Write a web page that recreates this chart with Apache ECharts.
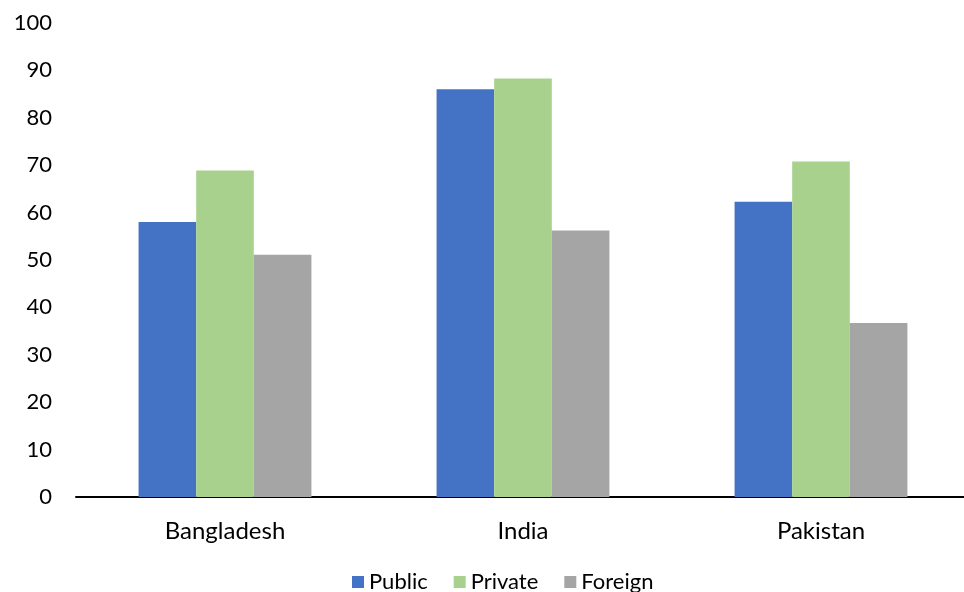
<!DOCTYPE html>
<html>
<head>
<meta charset="utf-8">
<style>
  html, body { margin: 0; padding: 0; background: #ffffff; overflow: hidden; }
  #chart { width: 972px; height: 592px; }
</style>
<script src="https://cdn.jsdelivr.net/npm/echarts@6/dist/echarts.min.js"></script>
</head>
<body>
<div id="chart"></div>
<script>
// Countries on the category axis
const countries = ['Bangladesh', 'India', 'Pakistan'];
// Values per ownership type
const publicValues = [58.0, 86.0, 62.3];
const privateValues = [68.9, 88.3, 70.8];
const foreignValues = [51.1, 56.2, 36.7];
const seriesNames = ['Public', 'Private', 'Foreign'];
const seriesColors = ['#4472C4', '#A9D18E', '#A5A5A5'];

const font = 'Lato, "Open Sans", sans-serif';
const chart = echarts.init(document.getElementById('chart'), null, { renderer: 'canvas' });

const values = [publicValues, privateValues, foreignValues];

chart.setOption({
  animation: false,
  backgroundColor: '#ffffff',
  textStyle: { fontFamily: font },
  // the plot runs slightly past the right edge of the visible page
  grid: { left: 76, right: 2, top: 23, bottom: 95, containLabel: false },
  legend: {
    top: 566,
    left: 347,
    itemWidth: 12,
    itemHeight: 12,
    itemGap: 26,
    icon: 'rect',
    textStyle: { fontFamily: font, fontSize: 22, color: '#000000', padding: 0 },
    data: seriesNames
  },
  xAxis: {
    type: 'category',
    data: countries,
    axisLine: { show: true, lineStyle: { color: '#000000', width: 2 } },
    axisTick: { show: false },
    axisLabel: { fontFamily: font, fontSize: 24, color: '#000000', margin: 22 }
  },
  yAxis: {
    type: 'value',
    min: 0,
    max: 100,
    interval: 10,
    axisLine: { show: false },
    axisTick: { show: false },
    splitLine: { show: false },
    axisLabel: { fontFamily: font, fontSize: 22, color: '#000000', margin: 24 }
  },
  series: seriesNames.map((name, i) => ({
    name: name,
    type: 'bar',
    data: values[i],
    barGap: '0%',
    barCategoryGap: '42%',
    itemStyle: { color: seriesColors[i] }
  }))
});
</script>
</body>
</html>
